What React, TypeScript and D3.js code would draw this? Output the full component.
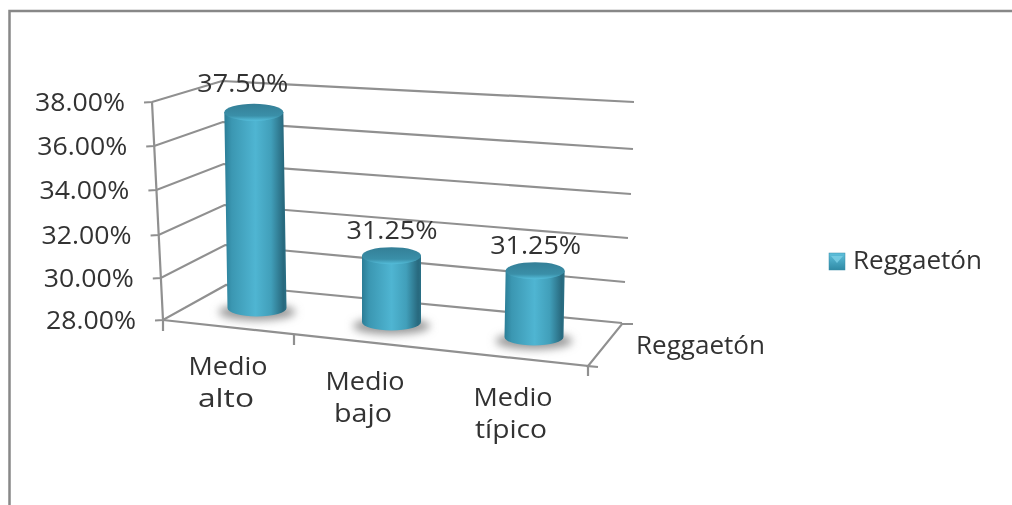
import React from "react";
import * as d3 from "d3";

const categories = ["Medio alto", "Medio bajo", "Medio típico"];
const values = [37.5, 31.25, 31.25];
const valueLabels = ["37.50%", "31.25%", "31.25%"];
const axisValues = [28, 30, 32, 34, 36, 38];
const seriesName = "Reggaetón";

const FONT = "'Open Sans', sans-serif";
const GRID = "#909090";

const xFront = d3.scaleLinear().domain([28, 38]).range([163, 152]);
const yFront = d3.scaleLinear().domain(axisValues).range([320, 278, 235, 190, 146, 102]);
const xBack = d3.scaleLinear().domain([28, 38]).range([226, 222]);
const yBack = d3.scaleLinear().domain(axisValues).range([285, 245, 205, 164, 122, 81]);
const xRight = d3.scaleLinear().domain(axisValues).range([622, 625, 628, 631, 633, 634]);
const yRight = d3.scaleLinear().domain(axisValues).range([323, 282, 238, 194, 149, 102]);

const barX = d3.scaleOrdinal<string, number>().domain(categories).range([257, 391.5, 534]);
const barBase = d3.scaleOrdinal<string, number>().domain(categories).range([308, 322, 337]);
const barH = d3.scaleLinear().domain([28, 38]).range([0, 207]);
const labelX = d3.scaleOrdinal<string, number>().domain(categories).range([228, 365, 513]);
const labelY = d3.scaleOrdinal<string, number>().domain(categories).range([375, 390, 406]);
const valueGap = d3.scaleOrdinal<string, number>().domain(categories).range([20, 17, 17]);

const gridLine = d3.line();
const RX = 29.5;
const RY = 8.5;

function Txt(p: { x: number; y: number; w: number; anchor?: string; children: string }) {
  return (
    <text x={p.x} y={p.y} textLength={p.w} lengthAdjust="spacingAndGlyphs" textAnchor={p.anchor || "middle"}
      fontFamily={FONT} fontSize={25} fontWeight={400} fill="#333" filter="url(#soft)">
      {p.children}
    </text>
  );
}

export default function App() {
  const floor = xFront(28);
  return (
    <svg width={1012} height={505} style={{ position: "absolute", left: 0, top: 0, display: "block", background: "#fff" }}>
      <defs>
        <linearGradient id="cyl" x1="0" x2="1" y1="0" y2="0">
          <stop offset="0" stopColor="#2b7d96" />
          <stop offset="0.12" stopColor="#3b97b2" />
          <stop offset="0.5" stopColor="#4fb5d2" />
          <stop offset="0.75" stopColor="#419fba" />
          <stop offset="0.95" stopColor="#28697e" />
          <stop offset="1" stopColor="#2a7086" />
        </linearGradient>
        <linearGradient id="cap" x1="0" x2="0" y1="0" y2="1">
          <stop offset="0" stopColor="#347f97" />
          <stop offset="0.7" stopColor="#3a8fa8" />
          <stop offset="1" stopColor="#55bedb" />
        </linearGradient>
        <linearGradient id="leg" x1="0" x2="0" y1="0" y2="1">
          <stop offset="0" stopColor="#5fc0dc" />
          <stop offset="1" stopColor="#2f8aa5" />
        </linearGradient>
        <filter id="blur" x="-30%" y="-80%" width="160%" height="260%">
          <feGaussianBlur stdDeviation="4" />
        </filter>
        <filter id="soft" x="-5%" y="-20%" width="110%" height="140%">
          <feGaussianBlur stdDeviation="0.4" />
        </filter>
        <filter id="lineSoft" filterUnits="userSpaceOnUse" x="0" y="0" width="1012" height="505">
          <feGaussianBlur stdDeviation="0.4" />
        </filter>
      </defs>

      <path d="M9.5 505V11H1012" fill="none" stroke="#888" strokeWidth={2.5} />

      <g filter="url(#lineSoft)" fill="none" stroke={GRID} strokeWidth={2.2}>
        {axisValues.map((v) => (
          <path key={v}
            d={gridLine([[xFront(v) - 8, yFront(v) + 0.5], [xFront(v), yFront(v)], [xBack(v), yBack(v)], [xRight(v), yRight(v)]]) || ""} />
        ))}
        <path d={gridLine([[xFront(38), yFront(38)], [floor, yFront(28)], [floor, yFront(28) + 11]]) || ""} />
        <path d={gridLine([[floor, yFront(28)], [588, 366], [588, 376]]) || ""} />
        <path d={gridLine([[294, 334], [294, 345]]) || ""} />
        <path d={gridLine([[598, 367], [588, 366], [622, 324], [633, 324]]) || ""} />
      </g>

      {axisValues.map((v) => (
        <Txt key={v} x={xFront(v) - 27} y={yFront(v) + 9} w={90} anchor="end">{`${v.toFixed(2)}%`}</Txt>
      ))}

      {categories.map((c, i) => {
        const cx = barX(c);
        const base = barBase(c);
        const h = barH(values[i]);
        const top = base - h + 1;
        const topCx = cx + (cx - 391.5) * h * 0.00012;
        const words = c.split(" ");
        return (
          <g key={c}>
            <ellipse cx={cx} cy={base + 4} rx={RX + 9} ry={RY} fill="#999" filter="url(#blur)" />
            <path
              d={`M${topCx - RX} ${top}L${cx - RX} ${base}A${RX} ${RY} 0 0 0 ${cx + RX} ${base}L${topCx + RX} ${top}Z`}
              fill="url(#cyl)" />
            <ellipse cx={topCx} cy={top} rx={RX} ry={RY} fill="url(#cap)" />
            <Txt x={topCx - (i === 0 ? 11 : -0.5)} y={top - valueGap(c)} w={91}>{valueLabels[i]}</Txt>
            <Txt x={labelX(c)} y={labelY(c)} w={79}>{words[0]}</Txt>
            <Txt x={labelX(c) - 2} y={labelY(c) + 32} w={i === 2 ? 72 : i === 1 ? 58 : 56}>{words[1]}</Txt>
          </g>
        );
      })}

      <Txt x={636} y={354} w={129} anchor="start">{seriesName}</Txt>

      <rect x={829} y={253} width={16} height={17} fill="url(#leg)" stroke="#3a8ca6" strokeWidth={0.5} />
      <path d="M831 256H843L837 263Z" fill="#7ccfe6" opacity={0.8} />
      <Txt x={853} y={269} w={129} anchor="start">{seriesName}</Txt>
    </svg>
  );
}
